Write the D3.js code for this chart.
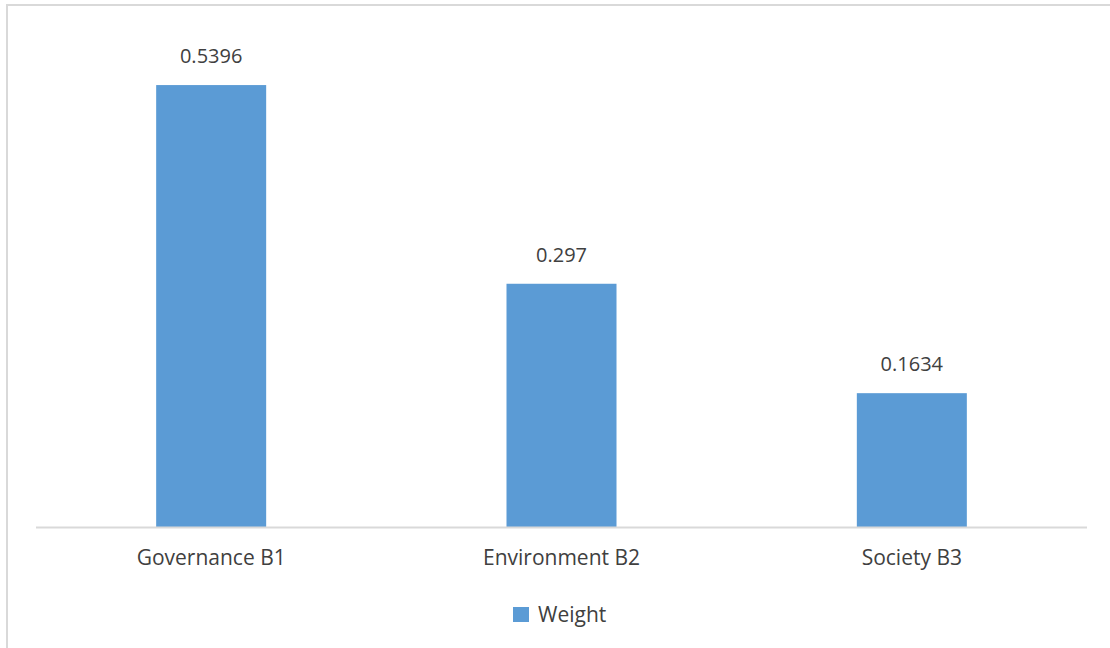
<!DOCTYPE html>
<html>
<head>
<meta charset="utf-8">
<script src="https://cdn.jsdelivr.net/npm/d3@7"></script>
<style>
  html, body { margin: 0; padding: 0; background: #fff; }
  svg { display: block; }
  text { font-family: "Open Sans", "Noto Sans", sans-serif; fill: #404040; }
</style>
</head>
<body>
<svg id="chart" width="1110" height="648"></svg>
<script>
// Criterion weights by dimension
const categories = ["Governance B1", "Environment B2", "Society B3"];
const weights = [0.5396, 0.297, 0.1634];
const valueLabels = ["0.5396", "0.297", "0.1634"];
const seriesName = "Weight";

const W = 1110, H = 648;
const plot = { left: 36, right: 1087, top: 40, bottom: 527 };
const barColor = "#5B9BD5";
const gridColor = "#d9d9d9";

const svg = d3.select("#chart");

// Outer chart frame (extends past the right and bottom edges)
svg.append("rect")
  .attr("x", 7).attr("y", 5)
  .attr("width", W + 20).attr("height", H + 20)
  .attr("fill", "#fff")
  .attr("stroke", gridColor)
  .attr("stroke-width", 2);

const x = d3.scaleBand()
  .domain(categories)
  .range([plot.left, plot.right])
  .paddingInner(0.686)
  .paddingOuter(0.343);

const y = d3.scaleLinear()
  .domain([0, 0.6])
  .range([plot.bottom, plot.bottom - 0.6 * 819]);

const data = categories.map((c, i) => ({ cat: c, v: weights[i], label: valueLabels[i] }));

// Bars
svg.append("g").selectAll("rect")
  .data(data)
  .join("rect")
  .attr("x", d => x(d.cat))
  .attr("y", d => y(d.v))
  .attr("width", x.bandwidth())
  .attr("height", d => y(0) - y(d.v))
  .attr("fill", barColor);

// Category axis
const xAxis = svg.append("g")
  .attr("transform", `translate(0,${plot.bottom})`)
  .call(d3.axisBottom(x).tickSize(0).tickSizeOuter(0));
xAxis.select(".domain").attr("stroke", gridColor).attr("stroke-width", 2)
  .attr("d", `M${plot.left},0.5H${plot.right}`);
xAxis.selectAll("text")
  .attr("font-size", 21)
  .attr("fill", "#404040")
  .attr("y", 38)
  .attr("dy", 0)
  .style("font-family", "'Open Sans', sans-serif");

// Value labels
svg.append("g").selectAll("text")
  .data(data)
  .join("text")
  .attr("x", d => x(d.cat) + x.bandwidth() / 2)
  .attr("y", d => y(d.v) - 22)
  .attr("text-anchor", "middle")
  .attr("font-size", 20)
  .text(d => d.label);

// Legend
const legend = svg.append("g").attr("transform", "translate(513,607)");
legend.append("rect").attr("width", 16).attr("height", 15).attr("fill", barColor);
legend.append("text").attr("x", 25).attr("y", 15).attr("font-size", 21).text(seriesName);
</script>
</body>
</html>
